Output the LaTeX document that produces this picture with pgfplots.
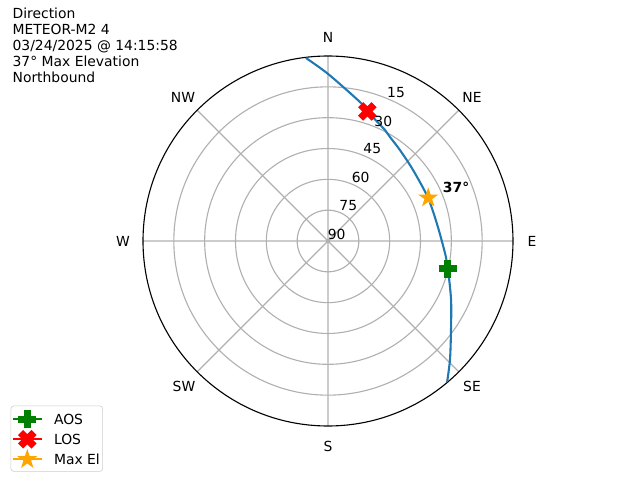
\documentclass[border=0pt]{standalone}
\usepackage{fontspec}
\setmainfont{DejaVu Sans}
\usepackage{pgfplots}
\pgfplotsset{compat=1.18}
\usepgfplotslibrary{polar}
\definecolor{mplblue}{HTML}{1F77B4}
\definecolor{mplgreen}{HTML}{008000}
\definecolor{mplred}{HTML}{FF0000}
\definecolor{mplorange}{HTML}{FFA500}
\definecolor{gridgray}{HTML}{B0B0B0}

% filled plus (matplotlib 'P')
\pgfdeclareplotmark{Pfill}{%
  \pgfpathmoveto{\pgfpoint{-0.3333\pgfplotmarksize}{-\pgfplotmarksize}}%
  \pgfpathlineto{\pgfpoint{-0.3333\pgfplotmarksize}{-0.3333\pgfplotmarksize}}%
  \pgfpathlineto{\pgfpoint{-\pgfplotmarksize}{-0.3333\pgfplotmarksize}}%
  \pgfpathlineto{\pgfpoint{-\pgfplotmarksize}{0.3333\pgfplotmarksize}}%
  \pgfpathlineto{\pgfpoint{-0.3333\pgfplotmarksize}{0.3333\pgfplotmarksize}}%
  \pgfpathlineto{\pgfpoint{-0.3333\pgfplotmarksize}{\pgfplotmarksize}}%
  \pgfpathlineto{\pgfpoint{0.3333\pgfplotmarksize}{\pgfplotmarksize}}%
  \pgfpathlineto{\pgfpoint{0.3333\pgfplotmarksize}{0.3333\pgfplotmarksize}}%
  \pgfpathlineto{\pgfpoint{\pgfplotmarksize}{0.3333\pgfplotmarksize}}%
  \pgfpathlineto{\pgfpoint{\pgfplotmarksize}{-0.3333\pgfplotmarksize}}%
  \pgfpathlineto{\pgfpoint{0.3333\pgfplotmarksize}{-0.3333\pgfplotmarksize}}%
  \pgfpathlineto{\pgfpoint{0.3333\pgfplotmarksize}{-\pgfplotmarksize}}%
  \pgfpathclose
  \pgfusepathqfillstroke
}
% filled X (matplotlib 'X')
\pgfdeclareplotmark{Xfill}{%
  \pgfpathmoveto{\pgfpoint{-0.5\pgfplotmarksize}{-\pgfplotmarksize}}%
  \pgfpathlineto{\pgfpoint{0pt}{-0.5\pgfplotmarksize}}%
  \pgfpathlineto{\pgfpoint{0.5\pgfplotmarksize}{-\pgfplotmarksize}}%
  \pgfpathlineto{\pgfpoint{\pgfplotmarksize}{-0.5\pgfplotmarksize}}%
  \pgfpathlineto{\pgfpoint{0.5\pgfplotmarksize}{0pt}}%
  \pgfpathlineto{\pgfpoint{\pgfplotmarksize}{0.5\pgfplotmarksize}}%
  \pgfpathlineto{\pgfpoint{0.5\pgfplotmarksize}{\pgfplotmarksize}}%
  \pgfpathlineto{\pgfpoint{0pt}{0.5\pgfplotmarksize}}%
  \pgfpathlineto{\pgfpoint{-0.5\pgfplotmarksize}{\pgfplotmarksize}}%
  \pgfpathlineto{\pgfpoint{-\pgfplotmarksize}{0.5\pgfplotmarksize}}%
  \pgfpathlineto{\pgfpoint{-0.5\pgfplotmarksize}{0pt}}%
  \pgfpathlineto{\pgfpoint{-\pgfplotmarksize}{-0.5\pgfplotmarksize}}%
  \pgfpathclose
  \pgfusepathqfillstroke
}
% filled five-point star (matplotlib '*')
\pgfdeclareplotmark{Starfill}{%
  \pgfpathmoveto{\pgfpointpolar{90}{\pgfplotmarksize}}%
  \pgfpathlineto{\pgfpointpolar{126}{0.382\pgfplotmarksize}}%
  \pgfpathlineto{\pgfpointpolar{162}{\pgfplotmarksize}}%
  \pgfpathlineto{\pgfpointpolar{198}{0.382\pgfplotmarksize}}%
  \pgfpathlineto{\pgfpointpolar{234}{\pgfplotmarksize}}%
  \pgfpathlineto{\pgfpointpolar{270}{0.382\pgfplotmarksize}}%
  \pgfpathlineto{\pgfpointpolar{306}{\pgfplotmarksize}}%
  \pgfpathlineto{\pgfpointpolar{342}{0.382\pgfplotmarksize}}%
  \pgfpathlineto{\pgfpointpolar{18}{\pgfplotmarksize}}%
  \pgfpathlineto{\pgfpointpolar{54}{0.382\pgfplotmarksize}}%
  \pgfpathclose
  \pgfusepathqfillstroke
}

\begin{document}
\begin{tikzpicture}
\useasboundingbox (0,0) rectangle (460.8pt,345.6pt);
\begin{polaraxis}[
  at={(236.16pt,172.08pt)}, anchor=center,
  scale only axis, width=266.4pt, height=266.4pt,
  xmin=0, xmax=360, ymin=0, ymax=90,
  xtick={0,45,...,315}, ytick={15,30,45,60,75},
  xticklabel=\empty, yticklabel=\empty,
  major tick length=0pt,
  grid=major,
  major grid style={draw=gridgray, line width=0.8pt},
  separate axis lines,
  x axis line style={black, line width=0.8pt},
  y axis line style={draw=none},
  x filter/.expression={90-x},
  y filter/.expression={90-y},
  legend cell align=left,
  legend image code/.code={\draw[mark repeat=2,mark phase=2] plot coordinates {(0pt,0pt) (10.5pt,0pt) (21pt,0pt)};},
  legend style={at={(-0.3576,-0.1235)}, anchor=south west,
    draw=black!20, rounded corners=2pt, fill=white,
    font=\fontsize{10pt}{12pt}\selectfont,
    inner xsep=0.5pt, inner ysep=3.5pt, row sep=2.5pt,
    /tikz/every odd column/.append style={column sep=6.5pt},
    nodes={inner sep=1.5pt, text height=7.3pt, text depth=0pt}},
]
% track: (azimuth in degrees clockwise from north, elevation in degrees)
\addplot[mplblue, line width=1.5pt, smooth, forget plot] coordinates {
 (353.1,0.3) (0.1,8.8) (13.5,21.0) (16.9,24.1) (27.2,29.3) (30.8,31.1)
 (38.4,33.6) (50.1,36.1) (66.7,37.0) (82.7,36.1) (97.7,32.1) (103.1,30.1)
 (115.6,23.6) (126.8,15.3) (134.3,7.1) (139.8,0.2)
};
\addplot[mplgreen, line width=1.5pt, mark=Pfill, mark size=6pt,
  mark options={solid, fill=mplgreen, draw=mplgreen, line width=1pt}]
  coordinates {(103.1,30.1)};
\addlegendentry{AOS}
\addplot[mplred, line width=1.5pt, mark=Xfill, mark size=6pt,
  mark options={solid, fill=mplred, draw=mplred, line width=1pt}]
  coordinates {(16.9,24.1)};
\addlegendentry{LOS}
\addplot[mplorange, line width=1.5pt, mark=Starfill, mark size=6pt,
  mark options={solid, fill=mplorange, draw=mplorange, line width=1pt}]
  coordinates {(66.7,36.9)};
\addlegendentry{Max El}
\end{polaraxis}

% compass labels
\begin{scope}[every node/.style={font=\fontsize{10pt}{12pt}\selectfont, inner sep=0pt}]
\node at (236.16pt,318.96pt) {N};
\node at (339.84pt,275.76pt) {NE};
\node at (383.04pt,172.08pt) {E};
\node at (339.84pt,67.68pt) {SE};
\node at (236.16pt,24.48pt) {S};
\node at (132.48pt,67.68pt) {SW};
\node at (88.56pt,172.08pt) {W};
\node at (131.76pt,275.76pt) {NW};
% radial labels
\node at (285.12pt,278.86pt) {15};
\node at (275.98pt,258.48pt) {30};
\node at (268.06pt,238.32pt) {45};
\node at (259.70pt,217.94pt) {60};
\node at (250.78pt,197.28pt) {75};
\node at (242.42pt,177.12pt) {90};
\node[anchor=west, font=\fontsize{10pt}{12pt}\selectfont\bfseries] at (318.7pt,210.7pt) {37°};
\end{scope}

\node[anchor=north west, align=left, inner sep=0pt, font=\fontsize{10pt}{11.6pt}\selectfont]
  at (8.9pt,340.3pt) {Direction\\METEOR-M2 4\\03/24/2025 @ 14:15:58\\37° Max Elevation\\Northbound};
\end{tikzpicture}
\end{document}
